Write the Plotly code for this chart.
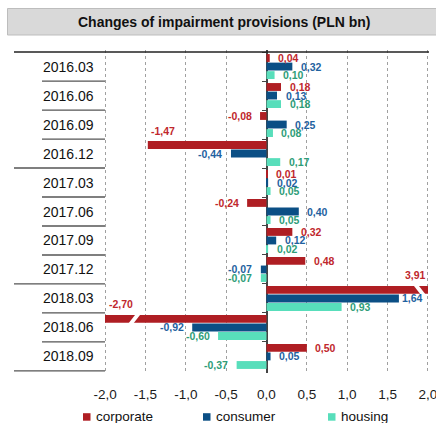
import plotly.graph_objects as go

# ---- data -------------------------------------------------------------
categories = ["2016.03", "2016.06", "2016.09", "2016.12",
              "2017.03", "2017.06", "2017.09", "2017.12",
              "2018.03", "2018.06", "2018.09"]
corporate = [0.04, 0.18, -0.08, -1.47, 0.01, -0.24, 0.32, 0.48, 3.91, -2.70, 0.50]
consumer = [0.32, 0.13, 0.25, -0.44, 0.02, 0.40, 0.12, -0.07, 1.64, -0.92, 0.05]
housing = [0.10, 0.18, 0.08, 0.17, 0.05, 0.05, 0.02, -0.07, 0.93, -0.60, -0.37]
series_names = ["corporate", "consumer", "housing"]
x_ticks = [-2.0, -1.5, -1.0, -0.5, 0.0, 0.5, 1.0, 1.5, 2.0]
x_tick_labels = ["-2,0", "-1,5", "-1,0", "-0,5", "0,0", "0,5", "1,0", "1,5", "2,0"]
title_text = "Changes of impairment provisions (PLN bn)"

# ---- styling ----------------------------------------------------------
FONT = "Arial, Liberation Sans, sans-serif"
BAR_COLORS = ["#AF1E23", "#0B4F85", "#58DEBB"]
TEXT_COLORS = ["#C0272D", "#1F62A0", "#2E9D78"]
W, H = 436, 423
M = dict(l=103, r=6, t=50, b=50, autoexpand=False)
PW = W - M["l"] - M["r"]
PH = H - M["t"] - M["b"]
XMIN, XMAX = -2.0, 2.0
XPAD = 0.025  # keeps the edge gridlines inside the plot area
X_RANGE = [XMIN - XPAD, XMAX + XPAD]
BARGAP = 0.115
BARGROUPGAP = 0.08
LABEL_GAP = 6.5
# labels drawn above the end of their bar instead of beside it
LABEL_ABOVE = {("corporate", "2016.12")}
LABEL_TIGHT = {("consumer", "2018.03")}


def px(x_pix):
    return (x_pix - M["l"]) / PW


def py(y_pix):
    return 1 - (y_pix - M["t"]) / PH


def fmt(v):
    return f"{v:.2f}".replace(".", ",")


values = [corporate, consumer, housing]
n = len(values)
slot = (1 - BARGAP) / n
half_bar = slot * (1 - BARGROUPGAP) / 2


def offset(k):
    return (k - (n - 1) / 2) * slot


fig = go.Figure()
for k, name in enumerate(series_names):
    fig.add_trace(go.Bar(
        y=categories, x=values[k], name=name, orientation="h",
        marker=dict(color=BAR_COLORS[k], line=dict(width=0)),
        showlegend=False, hoverinfo="skip",
    ))

annotations = []
shapes = []

# value labels
for k, name in enumerate(series_names):
    for i, v in enumerate(values[k]):
        yv = i + offset(k)
        a = dict(y=yv, xref="x", yref="y", text=fmt(v), showarrow=False,
                 font=dict(family=FONT, size=10.5, color=TEXT_COLORS[k], weight="bold"),
                 yanchor="middle")
        if v > XMAX:
            a.update(x=XMAX, xanchor="right", xshift=0, yshift=15)
        elif v < XMIN:
            a.update(x=XMIN, xanchor="left", xshift=2, yshift=15)
        elif (name, categories[i]) in LABEL_ABOVE:
            a.update(x=v, xanchor="left", xshift=1, yshift=14)
        else:
            gap = 1 if (name, categories[i]) in LABEL_TIGHT else LABEL_GAP
            if v >= 0:
                a.update(x=v, xanchor="left", xshift=gap)
            else:
                a.update(x=v, xanchor="right", xshift=-gap)
        annotations.append(a)

# break marks on bars that run past the axis limits
px_per_unit = PW / (X_RANGE[1] - X_RANGE[0])
for k in range(n):
    for i, v in enumerate(values[k]):
        if XMIN <= v <= XMAX:
            continue
        yv = i + offset(k)
        top, bot = yv - half_bar - 0.03, yv + half_bar + 0.03
        dx = 3.8 / px_per_unit
        w = 5.0 / px_per_unit
        if v > XMAX:
            xc = XMAX - 0.105
            xt, xb = xc - dx, xc + dx
        else:
            xc = XMIN + 0.365
            xt, xb = xc + dx, xc - dx
        path = (f"M {xt - w/2},{top} L {xt + w/2},{top} "
                f"L {xb + w/2},{bot} L {xb - w/2},{bot} Z")
        shapes.append(dict(type="path", path=path, xref="x", yref="y",
                           fillcolor="white", line=dict(width=0), layer="above"))

# bars that run past the limits are cut off at the limit line
for k in range(n):
    for i, v in enumerate(values[k]):
        if XMIN <= v <= XMAX:
            continue
        yv = i + offset(k)
        edge = XMAX if v > XMAX else XMIN
        beyond = X_RANGE[1] if v > XMAX else X_RANGE[0]
        shapes.append(dict(type="rect", xref="x", yref="y",
                           x0=edge, x1=beyond, y0=yv - half_bar - 0.02,
                           y1=yv + half_bar + 0.02,
                           fillcolor="white", line=dict(width=0), layer="above"))

# category labels and the table rules beside the plot
for i, c in enumerate(categories):
    annotations.append(dict(x=px(68), y=i, xref="paper", yref="y", text=c,
                            showarrow=False, xanchor="center", yanchor="middle",
                            font=dict(family=FONT, size=14, color="#111111")))

year_breaks = {0, 4, 8, len(categories)}
for b in range(len(categories) + 1):
    yb = b - 0.5
    if b == 0:
        shapes.append(dict(type="line", xref="paper", yref="y", x0=px(14), x1=px(429),
                           y0=yb, y1=yb, line=dict(color="#222222", width=1.5)))
    else:
        x0 = px(14) if b in year_breaks else px(42)
        shapes.append(dict(type="line", xref="paper", yref="y", x0=x0, x1=px(105),
                           y0=yb, y1=yb, line=dict(color="#555555", width=1.3)))

# title box
shapes.append(dict(type="rect", xref="paper", yref="paper",
                   x0=px(7.5), x1=px(440), y0=py(35), y1=py(8.5),
                   fillcolor="#D9D9D9", line=dict(color="#BDBDBD", width=1),
                   layer="below"))
annotations.append(dict(x=px(223.5), y=py(22), xref="paper", yref="paper",
                        text=title_text, showarrow=False, xanchor="center",
                        yanchor="middle",
                        font=dict(family=FONT, size=14, color="#111111", weight="bold")))

# legend
legend_x = [83, 203, 328]
for k, name in enumerate(series_names):
    x0 = legend_x[k]
    shapes.append(dict(type="rect", xref="paper", yref="paper",
                       x0=px(x0), x1=px(x0 + 7.5), y0=py(420.7), y1=py(413.2),
                       fillcolor=BAR_COLORS[k], line=dict(width=0)))
    annotations.append(dict(x=px(x0 + 10.5), y=py(416.5), xref="paper", yref="paper",
                            text=name, showarrow=False, xanchor="left",
                            yanchor="middle",
                            font=dict(family=FONT, size=13.5, color="#111111")))

fig.update_layout(
    width=W, height=H, margin=M,
    paper_bgcolor="white", plot_bgcolor="white",
    barmode="group", bargap=BARGAP, bargroupgap=BARGROUPGAP,
    font=dict(family=FONT),
    showlegend=False,
    annotations=annotations, shapes=shapes,
    xaxis=dict(range=X_RANGE, tickvals=x_ticks, ticktext=x_tick_labels,
               showgrid=True, gridcolor="#A0A0A0", griddash="dot", gridwidth=1,
               zeroline=True, zerolinecolor="#444444", zerolinewidth=1.5,
               showline=False, ticks="", ticklabelstandoff=11,
               ticklabeloverflow="allow", automargin=False,
               tickfont=dict(family=FONT, size=13.5, color="#1A1A1A"),
               fixedrange=True),
    yaxis=dict(type="category", categoryorder="array", categoryarray=categories,
               autorange="reversed", showgrid=False, zeroline=False,
               showticklabels=False, ticks="outside", tickson="boundaries",
               ticklen=5, tickcolor="#444444", tickwidth=1.3, automargin=False,
               anchor="free", position=0.5, showline=False, fixedrange=True),
)

fig.write_html("out.html")
